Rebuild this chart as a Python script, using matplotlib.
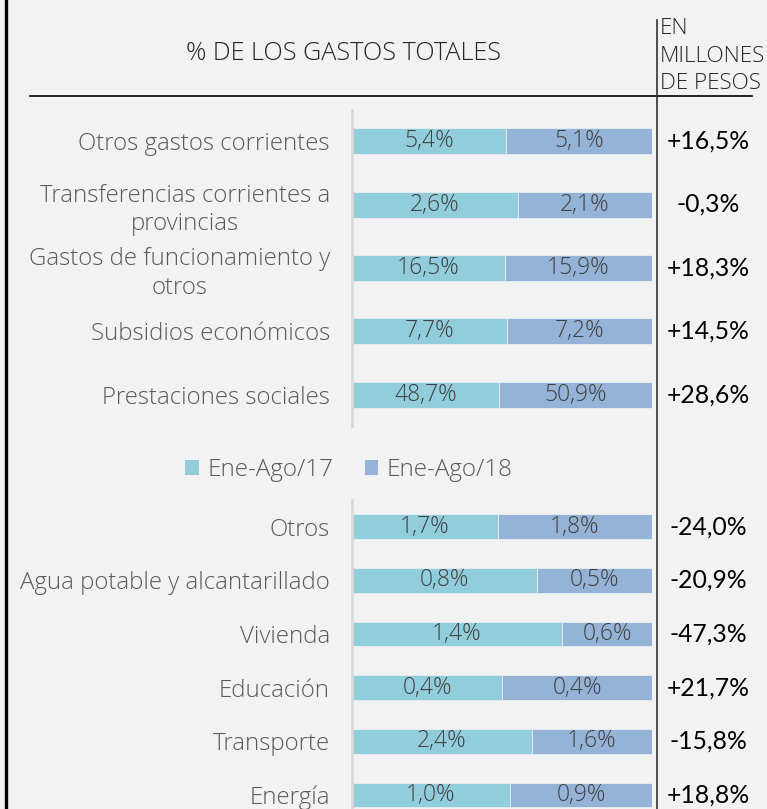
import matplotlib
matplotlib.use("Agg")
import matplotlib.pyplot as plt
from matplotlib.lines import Line2D
from matplotlib.patches import Patch
import matplotlib.transforms as mtransforms

# ---------------- data ----------------
top_categories = ["Otros gastos corrientes",
                  "Transferencias corrientes a\nprovincias",
                  "Gastos de funcionamiento y\notros",
                  "Subsidios económicos",
                  "Prestaciones sociales"]
top_2017 = [5.4, 2.6, 16.5, 7.7, 48.7]
top_2018 = [5.1, 2.1, 15.9, 7.2, 50.9]
top_var = ["+16,5%", "-0,3%", "+18,3%", "+14,5%", "+28,6%"]

bot_categories = ["Otros", "Agua potable y alcantarillado", "Vivienda",
                  "Educación", "Transporte", "Energía"]
bot_2017 = [1.7, 0.8, 1.4, 0.4, 2.4, 1.0]
bot_2018 = [1.8, 0.5, 0.6, 0.4, 1.6, 0.9]
bot_var = ["-24,0%", "-20,9%", "-47,3%", "+21,7%", "-15,8%", "+18,8%"]

series_names = ["Ene-Ago/17", "Ene-Ago/18"]
title_left = "% DE LOS GASTOS TOTALES"
title_right = "EN\nMILLONES\nDE PESOS"

# ---------------- style ----------------
W, H = 767, 809
BG = "#f2f2f2"
C17 = "#92cddc"
C18 = "#95b3d7"
LABEL = "#595959"
TFONT = "Open Sans"
NFONT = "Lato"

fig = plt.figure(figsize=(W / 100, H / 100), dpi=100, facecolor=BG)


def fx(px):
    return px / W


def fy(py):
    return 1 - py / H


def fmt(v):
    return f"{v:.1f}".replace(".", ",") + "%"


def draw_panel(top_px, bot_px, cats, a, b, var, ylim, height):
    ax = fig.add_axes([fx(352), fy(bot_px), fx(652) - fx(352), (bot_px - top_px) / H])
    ax.set_facecolor("none")
    n = len(cats)
    ys = list(range(n))
    fa = [x / (x + y) for x, y in zip(a, b)]
    fb = [y / (x + y) for x, y in zip(a, b)]
    ax.barh(ys, fa, height=height, color=C17, edgecolor="#e8eef4", linewidth=0.6)
    ax.barh(ys, fb, left=fa, height=height, color=C18, edgecolor="#e8eef4", linewidth=0.6)
    for y, f1, f2, v1, v2 in zip(ys, fa, fb, a, b):
        ax.text(f1 / 2, y, fmt(v1), ha="center", va="center", fontsize=16.5,
                color="#404040", family=TFONT, fontweight="light")
        ax.text(f1 + f2 / 2, y, fmt(v2), ha="center", va="center", fontsize=16.5,
                color="#404040", family=TFONT, fontweight="light")
    ax.set_xlim(0, 1)
    ax.set_ylim(*ylim)
    ax.set_yticks(ys)
    ax.set_yticklabels(cats, fontsize=17.3, color=LABEL, family=TFONT, fontweight="light",
                       linespacing=1.25)
    for lab in ax.get_yticklabels():
        lab.set_multialignment("center")
    ax.tick_params(axis="y", length=0, pad=16)
    ax.set_xticks([])
    for s in ["top", "right", "bottom"]:
        ax.spines[s].set_visible(False)
    ax.spines["left"].set_color("#d9d9d9")
    ax.spines["left"].set_linewidth(2)
    tr = mtransforms.blended_transform_factory(fig.transFigure, ax.transData)
    for y, t in zip(ys, var):
        ax.text(fx(708), y, t, transform=tr, ha="center", va="center",
                fontsize=17.8, color="black", family=NFONT, clip_on=False)
    return ax


draw_panel(110, 426, top_categories, top_2017, top_2018, top_var, (4.49, -0.49), 0.41)
draw_panel(500, 809, bot_categories, bot_2017, bot_2018, bot_var, (5.26, -0.5), 0.46)

# legend
handles = [Patch(facecolor=C17, edgecolor="none"), Patch(facecolor=C18, edgecolor="none")]
leg = fig.legend(handles, series_names, loc="center", bbox_to_anchor=(fx(349), fy(470)),
                 ncol=2, frameon=False, handlelength=0.55, handleheight=0.55,
                 handletextpad=0.35, columnspacing=1.3,
                 prop={"family": TFONT, "size": 17.5, "weight": "light"})
for t in leg.get_texts():
    t.set_color(LABEL)

# titles
fig.text(fx(343), fy(53), title_left, ha="center", va="center", fontsize=18.2,
         color="#262626", family=TFONT, fontweight="light")
fig.text(fx(660), fy(56), title_right, ha="left", va="center", fontsize=16.2,
         color="#262626", family=TFONT, fontweight="light", linespacing=1.38)

# frame lines
fig.add_artist(Line2D([fx(5.5), fx(5.5)], [0, 1], color="black", lw=2.4))
fig.add_artist(Line2D([fx(30), fx(752)], [fy(96), fy(96)], color="black", lw=1.2))
fig.add_artist(Line2D([fx(657), fx(657)], [fy(20), 0], color="#333333", lw=1.2))

fig.savefig("out.png", dpi=100, facecolor=BG)
